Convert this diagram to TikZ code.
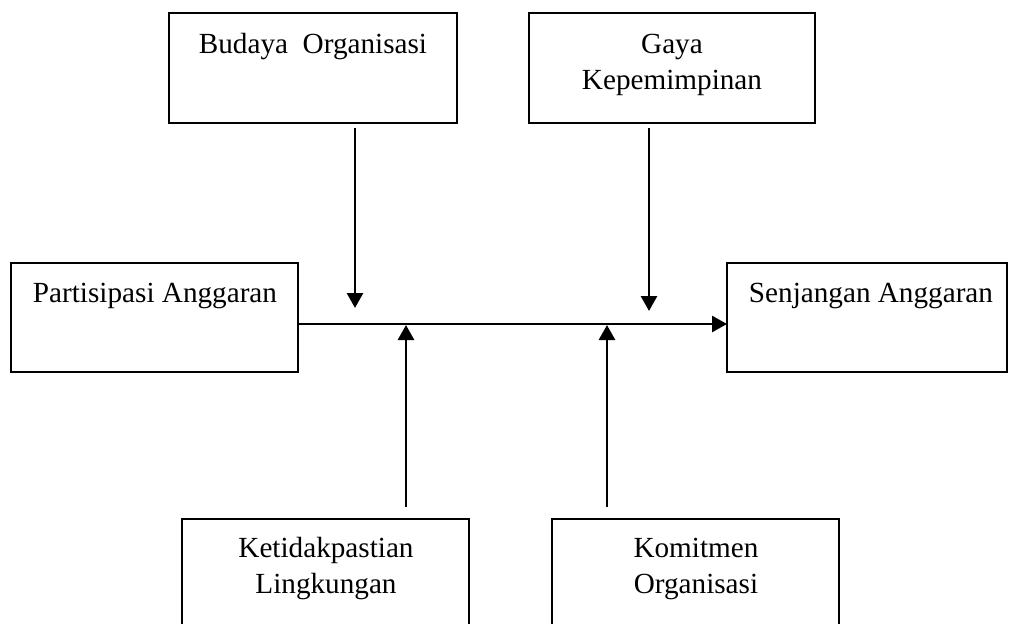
\documentclass[tikz,border=0pt]{standalone}
\usepackage{fontspec}
\setmainfont{Liberation Serif}
\usetikzlibrary{arrows.meta}
\begin{document}
\begin{tikzpicture}[x=0.5pt,y=-0.5pt,
  box/.style={draw,line width=1.1pt,rectangle,inner sep=0pt,outer sep=0pt},
  lbl/.style={anchor=base,inner sep=0pt,font=\fontsize{14.6pt}{18pt}\selectfont},
  conn/.style={line width=1.4pt},
  arr/.style={conn,-{Triangle[width=8pt,length=7.5pt]}}]
\useasboundingbox (0,0) rectangle (1009,623);
\clip (0,0) rectangle (1009,623);
\fill[white] (0,0) rectangle (1009,623);
% boxes
\node[box,minimum width=144pt,minimum height=55pt] (B) at (313,68) {};
\node[box,minimum width=143pt,minimum height=55pt] (G) at (672,68) {};
\node[box,minimum width=143.5pt,minimum height=54.5pt] (P) at (154.5,317.5) {};
\node[box,minimum width=140pt,minimum height=54.5pt] (S) at (867,317.5) {};
\node[box,minimum width=143.5pt,minimum height=60.5pt] (K) at (325.5,579.5) {};
\node[box,minimum width=143.5pt,minimum height=60.5pt] (M) at (695.5,579.5) {};
% texts
\node[lbl] (tB) at (313,53) {Budaya~~Organisasi};
\node[lbl] (tG1) at (672,53) {Gaya};
\node[lbl] (tG2) at (672,89) {Kepemimpinan};
\node[lbl] (tP) at (155,302) {Partisipasi Anggaran};
\node[lbl] (tS) at (871,302) {Senjangan Anggaran};
\node[lbl] (tK1) at (326,557) {Ketidakpastian};
\node[lbl] (tK2) at (326,593) {Lingkungan};
\node[lbl] (tM1) at (696,557) {Komitmen};
\node[lbl] (tM2) at (696,593) {Organisasi};
% connector points
\coordinate (pe) at (P.east |- 0,324);
\coordinate (sw) at (S.west |- 0,324);
\coordinate (d1s) at (355,128);
\coordinate (d1e) at (355,308);
\coordinate (d2s) at (649,128);
\coordinate (d2e) at (649,311);
\coordinate (u1s) at (406,507);
\coordinate (u1e) at (406,325);
\coordinate (u2s) at (607,507);
\coordinate (u2e) at (607,325);
% connectors
\draw[arr] (pe) -- (sw);
\draw[arr] (d1s) -- (d1e);
\draw[arr] (d2s) -- (d2e);
\draw[arr] (u1s) -- (u1e);
\draw[arr] (u2s) -- (u2e);
\end{tikzpicture}
\end{document}
